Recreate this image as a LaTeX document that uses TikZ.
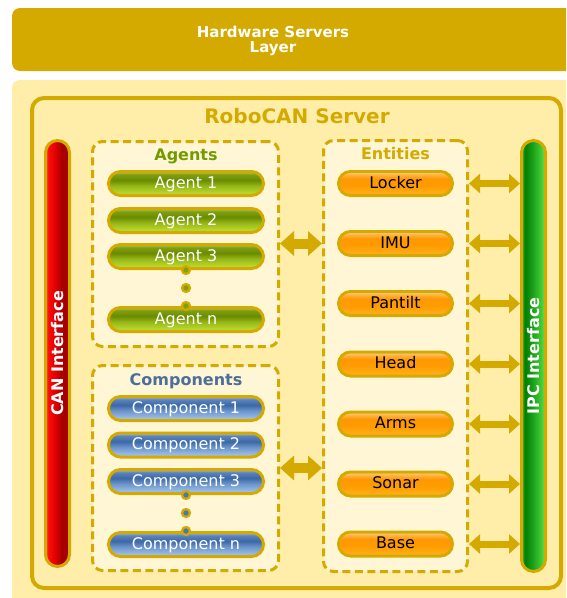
\documentclass[tikz,border=0pt]{standalone}
\usepackage{fontspec}
\setmainfont{DejaVu Sans}
\usetikzlibrary{arrows.meta,calc}

% palette
\definecolor{gold}{HTML}{D4AA00}
\definecolor{cream}{HTML}{FFEEAA}
\definecolor{pale}{HTML}{FFF6D5}
\definecolor{agenttitle}{HTML}{739B00}
\definecolor{comptitle}{HTML}{4C6E99}
\definecolor{agentdot}{HTML}{7FA010}
\definecolor{compdot}{HTML}{4A78B5}

% glossy pill fills (bottom to top)
\definecolor{agA}{HTML}{C6E23A}
\definecolor{agB}{HTML}{96B816}
\definecolor{agC}{HTML}{6A8B00}
\definecolor{agD}{HTML}{80A014}
\definecolor{agE}{HTML}{B2CE5E}
\pgfdeclareverticalshading{agentfill}{100bp}{color(0bp)=(agA); color(25bp)=(agA); color(45bp)=(agB); color(57bp)=(agC); color(69bp)=(agD); color(75bp)=(agE); color(100bp)=(agE)}

\definecolor{cpA}{HTML}{AACAF2}
\definecolor{cpB}{HTML}{6E96CC}
\definecolor{cpC}{HTML}{3C68A6}
\definecolor{cpD}{HTML}{5C84BC}
\definecolor{cpE}{HTML}{A2BCDE}
\pgfdeclareverticalshading{compfill}{100bp}{color(0bp)=(cpA); color(25bp)=(cpA); color(45bp)=(cpB); color(57bp)=(cpC); color(69bp)=(cpD); color(75bp)=(cpE); color(100bp)=(cpE)}

\definecolor{enA}{HTML}{FFB220}
\definecolor{enB}{HTML}{FF9C00}
\definecolor{enC}{HTML}{FF9800}
\definecolor{enD}{HTML}{FFB850}
\definecolor{enE}{HTML}{FFE0B0}
\pgfdeclareverticalshading{entfill}{100bp}{color(0bp)=(enA); color(25bp)=(enA); color(45bp)=(enB); color(60bp)=(enC); color(70bp)=(enD); color(75bp)=(enE); color(100bp)=(enE)}

% interface bars (left to right)
\definecolor{rdA}{HTML}{F05060}
\definecolor{rdB}{HTML}{FF0A0A}
\definecolor{rdC}{HTML}{E00000}
\definecolor{rdD}{HTML}{A80000}
\definecolor{rdE}{HTML}{C81010}
\pgfdeclarehorizontalshading{canfill}{100bp}{color(0bp)=(rdA); color(25bp)=(rdA); color(31bp)=(rdB); color(45bp)=(rdC); color(58bp)=(rdD); color(70bp)=(rdD); color(75bp)=(rdE); color(100bp)=(rdE)}

\definecolor{grA}{HTML}{44B844}
\definecolor{grB}{HTML}{008000}
\definecolor{grC}{HTML}{189A18}
\definecolor{grD}{HTML}{44CC33}
\definecolor{grE}{HTML}{77E066}
\pgfdeclarehorizontalshading{ipcfill}{100bp}{color(0bp)=(grA); color(25bp)=(grA); color(32bp)=(grB); color(46bp)=(grC); color(66bp)=(grD); color(75bp)=(grE); color(100bp)=(grE)}

\begin{document}
\begin{tikzpicture}[x=1pt,y=-1pt,
  pill/.style={draw=gold, line width=3pt, rounded corners=12pt,
    minimum height=24pt, text height=12pt, text depth=3pt, inner sep=0pt,
    font=\fontsize{16}{19}\selectfont, shade},
  agentpill/.style={pill, minimum width=155pt, shading=agentfill, text=white},
  comppill/.style={pill, minimum width=155pt, shading=compfill, text=white},
  entpill/.style={pill, minimum width=114pt, shading=entfill, text=black},
  groupbox/.style={draw=gold, line width=3pt, dash pattern=on 8pt off 4.5pt,
    fill=pale, rounded corners=10pt, inner sep=0pt},
  grouptitle/.style={anchor=base, font=\fontsize{16}{19}\selectfont\bfseries},
  bar/.style={draw=gold, line width=3pt, rounded corners=12pt,
    minimum width=24pt, inner sep=0pt, shade},
  bartext/.style={rotate=90, text=white, inner sep=0pt,
    font=\fontsize{16}{19}\selectfont\bfseries},
  dot/.style={circle, draw=gold, line width=2.2pt, minimum size=8pt, inner sep=0pt},
  bigarrow/.style={draw=gold, line width=10pt,
    {Triangle[width=24pt,length=14pt]}-{Triangle[width=24pt,length=14pt]}},
  smallarrow/.style={draw=gold, line width=7pt,
    {Triangle[width=19pt,length=11pt]}-{Triangle[width=19pt,length=11pt]}}
]
\useasboundingbox (0,0) rectangle (566,598);
\clip (0,0) rectangle (566,598);
\fill[white] (0,0) rectangle (566,598);

% hardware layer band and server area
\fill[gold, rounded corners=8pt] (12,8) rectangle (600,71);
\node[align=center, text=white, font=\fontsize{15}{15.5}\selectfont\bfseries]
  (hwtitle) at (273,41) {Hardware Servers\\Layer};
\fill[cream, rounded corners=8pt] (12,80) rectangle (600,640);

% RoboCAN server frame
\node[draw=gold, line width=4pt, fill=cream, rounded corners=12pt,
  minimum width=529pt, minimum height=490pt, inner sep=0pt]
  (server) at (296.5,343) {};
\node[grouptitle, text=gold, font=\fontsize{20}{24}\selectfont\bfseries]
  (servertitle) at (297,123) {RoboCAN Server};

% groups
\node[groupbox, minimum width=186pt, minimum height=205pt] (agents) at (185.5,244) {};
\node[groupbox, minimum width=186pt, minimum height=205pt] (comps) at (185.5,468) {};
\node[groupbox, minimum width=144pt, minimum height=431pt] (entities) at (395.5,356) {};
\node[grouptitle, text=agenttitle] (agentstitle) at (186,160) {Agents};
\node[grouptitle, text=comptitle] (compstitle) at (186,385) {Components};
\node[grouptitle, text=gold] (entitiestitle) at (395.5,159) {Entities};

% interface bars
\node[bar, shading=canfill, minimum height=426pt] (can) at (57.5,353.5) {};
\node[bartext] (cantext) at (can.center) {CAN Interface};
\node[bar, shading=ipcfill, minimum height=431pt] (ipc) at (533.5,356) {};
\node[bartext] (ipctext) at (ipc.center) {IPC Interface};

% agents
\node[agentpill] (agent1) at (186,183.5) {Agent 1};
\node[agentpill] (agent2) at (186,220.5) {Agent 2};
\node[agentpill] (agent3) at (186,256.5) {Agent 3};
\node[agentpill] (agentn) at (186,319.5) {Agent n};
\node[dot, fill=agentdot] (adot1) at (agent3.south) {};
\node[dot, fill=agentdot] (adot2) at ($(agent3.south)!0.5!(agentn.north)$) {};
\node[dot, fill=agentdot] (adot3) at (agentn.north) {};

% components
\node[comppill] (comp1) at (186,408.5) {Component 1};
\node[comppill] (comp2) at (186,445) {Component 2};
\node[comppill] (comp3) at (186,481.5) {Component 3};
\node[comppill] (compn) at (186,544.5) {Component n};
\node[dot, fill=compdot] (cdot1) at (comp3.south) {};
\node[dot, fill=compdot] (cdot2) at ($(comp3.south)!0.5!(compn.north)$) {};
\node[dot, fill=compdot] (cdot3) at (compn.north) {};

% entities
\node[entpill] (locker) at (395.5,183.5) {Locker};
\node[entpill] (imu) at (395.5,243.5) {IMU};
\node[entpill] (pantilt) at (395.5,303.5) {Pantilt};
\node[entpill] (head) at (395.5,364) {Head};
\node[entpill] (arms) at (395.5,424) {Arms};
\node[entpill] (sonar) at (395.5,484) {Sonar};
\node[entpill] (base) at (395.5,544) {Base};

% links between groups
\draw[bigarrow] (agents.east |- imu) -- (entities.west |- imu);
\draw[bigarrow] (comps.east) -- (comps.east -| entities.west);

% links from entities to IPC
\foreach \e in {locker,imu,pantilt,head,arms,sonar,base}
  \draw[smallarrow] (\e -| entities.east) -- (\e -| ipc.west);
\end{tikzpicture}
\end{document}
